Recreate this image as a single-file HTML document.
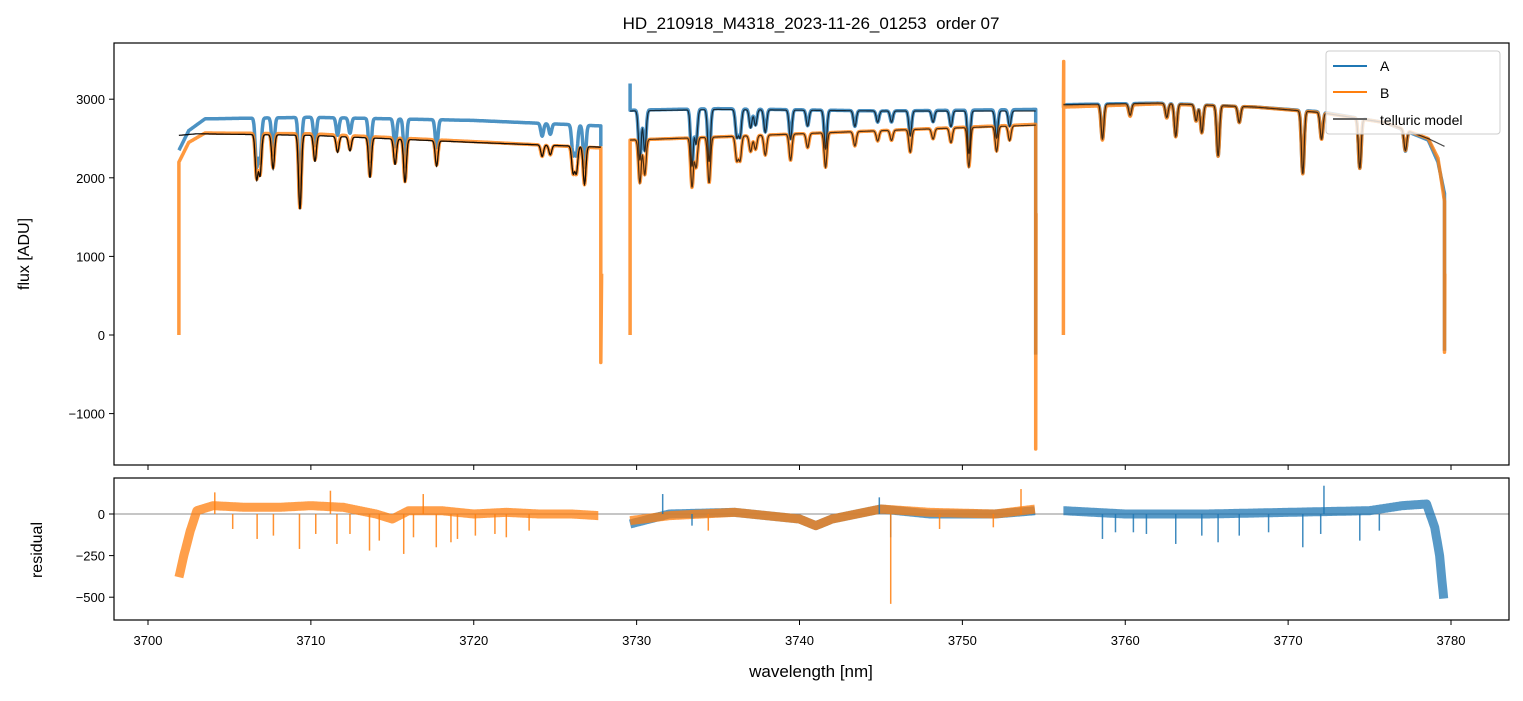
<!DOCTYPE html>
<html><head><meta charset="utf-8"><style>
body{margin:0;background:#fff;font-family:"Liberation Sans",sans-serif}
svg text{font-family:"Liberation Sans",sans-serif;fill:#000}
</style></head><body>
<svg id="chart" width="1523" height="696" xmlns="http://www.w3.org/2000/svg">
<rect width="1523" height="696" fill="#fff"/>
<text x="811" y="29" font-size="17" text-anchor="middle">HD_210918_M4318_2023-11-26_01253&#160; order 07</text>
<g id="topg"></g><g id="botg"></g>
<rect x="114" y="43" width="1395" height="422" fill="none" stroke="#000" stroke-width="1.2"/>
<rect x="114" y="478" width="1395" height="142" fill="none" stroke="#000" stroke-width="1.2"/>
<g id="ticks"></g>
<text transform="translate(29,254) rotate(-90)" font-size="16" text-anchor="middle">flux [ADU]</text>
<text transform="translate(42,550) rotate(-90)" font-size="16" text-anchor="middle">residual</text>
<text x="811" y="677" font-size="17" text-anchor="middle">wavelength [nm]</text>
<g>
<rect x="1326" y="51" width="174" height="83" rx="3" fill="#fff" fill-opacity="0.8" stroke="#ccc"/>
<line x1="1333" y1="66" x2="1367" y2="66" stroke="#1f77b4" stroke-width="2"/>
<text x="1380" y="71" font-size="14">A</text>
<line x1="1333" y1="92" x2="1367" y2="92" stroke="#ff7f0e" stroke-width="2"/>
<text x="1380" y="98" font-size="14">B</text>
<line x1="1333" y1="119" x2="1367" y2="119" stroke="#666" stroke-width="2"/>
<text x="1380" y="125" font-size="14">telluric model</text>
</g>
</svg>
<script>
// ---- data ----
const xTicks=[3700,3710,3720,3730,3740,3750,3760,3770,3780];
const yTicksTop=[3000,2000,1000,0,-1000];
const yTicksBot=[0,-250,-500];
const segRanges=[[3701.9,3727.8],[3729.6,3754.5],[3756.2,3779.6]];
const contA=[
 [[3701.9,2350],[3702.5,2600],[3703.5,2750],[3710,2770],[3720,2730],[3727.8,2660]],
 [[3729.6,2860],[3735,2880],[3745,2850],[3754.5,2870]],
 [[3756.2,2930],[3762,2950],[3768,2900],[3772,2840],[3776,2700],[3778.6,2480],[3779.2,2200],[3779.6,1800]]
];
const contB=[
 [[3701.9,2200],[3702.5,2450],[3703.5,2570],[3710,2560],[3720,2460],[3727.8,2380]],
 [[3729.6,2480],[3735,2520],[3745,2600],[3754.5,2680]],
 [[3756.2,2900],[3762,2940],[3768,2900],[3772,2830],[3776,2700],[3778.6,2500],[3779.2,2250],[3779.6,1700]]
];
const contM=[
 [[3701.9,2540],[3703,2560],[3710,2540],[3720,2450],[3727.8,2390]],
 [[3729.6,2850],[3735,2870],[3745,2850],[3754.5,2850]],
 [[3756.2,2930],[3762,2950],[3768,2900],[3772,2830],[3776,2700],[3778.6,2500],[3779.6,2400]]
];
const contMB=[
 [[3701.9,2540],[3703,2560],[3710,2540],[3720,2450],[3727.8,2390]],
 [[3729.6,2480],[3735,2520],[3745,2600],[3754.5,2670]],
 [[3756.2,2930],[3779.6,2400]]
];
const lineWl=[3706.67,3706.88,3707.68,3709.33,3710.25,3711.64,3712.40,3713.63,3715.17,3715.78,3717.72,3724.2,3724.7,3726.1,3726.3,3726.8,
 3730.2,3730.5,3733.4,3733.65,3734.45,3736.15,3736.35,3737.0,3737.3,3737.9,3739.45,3740.5,3741.6,3743.4,3744.8,3745.65,3746.8,3748.2,3749.3,3750.4,3752.1,3752.9,
 3758.6,3760.3,3762.55,3763.1,3764.35,3764.7,3765.7,3767.0,3770.9,3772.05,3774.4,3777.2];
const lineDepth=[0.22,0.2,0.17,0.37,0.13,0.08,0.07,0.2,0.13,0.22,0.13,0.06,0.05,0.14,0.14,0.2,
 0.22,0.18,0.25,0.15,0.23,0.12,0.12,0.08,0.07,0.1,0.13,0.07,0.17,0.07,0.05,0.05,0.11,0.05,0.07,0.19,0.12,0.07,
 0.15,0.05,0.06,0.14,0.07,0.12,0.22,0.07,0.28,0.12,0.23,0.1];
const resB=[[[3701.9,-380],[3702.2,-250],[3702.6,-100],[3703,20],[3704,50],[3706,40],[3708,40],[3710,50],[3712,40],[3714,0],[3715,-30],[3716,20],[3718,20],[3720,0],[3722,10],[3724,0],[3726,0],[3727.7,-10]],
 [[3729.6,-40],[3732,-10],[3736,10],[3740,-30],[3741,-70],[3742,-30],[3745,30],[3748,10],[3752,0],[3754.5,30]]];
const resA=[[[3729.6,-60],[3732,0],[3736,10],[3740,-30],[3741,-70],[3742,-30],[3745,30],[3748,0],[3752,0],[3754.5,20]],
 [[3756.2,20],[3760,0],[3765,0],[3770,10],[3775,20],[3777,50],[3778.5,60],[3779,-80],[3779.3,-250],[3779.6,-560]]];
const spikeBWl=[3705.2,3706.7,3707.7,3709.3,3710.3,3711.6,3712.4,3713.6,3714.2,3715.7,3716.3,3717.7,3718.6,3719,3720.1,3721.3,3722,3723.4,3745.6,3734.4,3748.6,3751.9,3753.6,3704.1,3711.2,3716.9];
const spikeBVal=[-90,-150,-130,-210,-120,-180,-120,-220,-160,-240,-140,-200,-170,-150,-130,-120,-140,-100,-540,-100,-90,-80,150,130,140,120];
const spikeAWl=[3758.6,3759.4,3761.3,3763.1,3764.7,3765.7,3767.0,3768.8,3770.9,3772,3772.2,3774.4,3775.6,3760.5,3745.6,3731.6,3733.4,3744.9];
const spikeAVal=[-150,-110,-120,-180,-130,-170,-130,-110,-200,-120,170,-160,-100,-110,-140,120,-70,100];

const X=v=>148+(v-3700)*16.2875;
const YT=v=>335-v*0.0786;
const YB=v=>514-v*0.1664;
function interp(arr,w){if(w<=arr[0][0])return arr[0][1];for(let i=1;i<arr.length;i++){if(w<=arr[i][0]){const a=arr[i-1],b=arr[i];return a[1]+(b[1]-a[1])*(w-a[0])/(b[0]-a[0]);}}return arr[arr.length-1][1];}
function absorb(w){let f=1;for(let i=0;i<lineWl.length;i++){const d=(w-lineWl[i])/0.12;if(Math.abs(d)<5)f*=1-lineDepth[i]*Math.exp(-d*d);}return f;}
const NS='http://www.w3.org/2000/svg';
function mk(tag,attrs,parent){const e=document.createElementNS(NS,tag);for(const k in attrs)e.setAttribute(k,attrs[k]);parent.appendChild(e);return e;}
const topG=document.getElementById('topg'),botG=document.getElementById('botg'),tk=document.getElementById('ticks');
function series(cont,seg,pre,post){let pts=[];const [a,b]=segRanges[seg];pre.forEach(p=>pts.push(X(p[0]).toFixed(1)+','+YT(p[1]).toFixed(1)));for(let w=a;w<=b;w+=0.02){pts.push(X(w).toFixed(1)+','+YT(interp(cont[seg],w)*absorb(w)).toFixed(1));}post.forEach(p=>pts.push(X(p[0]).toFixed(1)+','+YT(p[1]).toFixed(1)));return pts.join(' ');}
const edgesA=[[[],[[3727.8,2400]]],[[[3729.6,3200]],[[3754.5,-250]]],[[],[[3779.6,-200]]]];
const edgesB=[[[[3701.9,0]],[[3727.8,-350],[3727.85,780]]],[[[3729.6,0]],[[3754.5,-1450],[3754.52,1550]]],[[[3756.2,0],[3756.22,3480]],[[3779.6,-220],[3779.62,780]]]];
for(let s=0;s<3;s++){
 const pA=mk('polyline',{points:series(contA,s,edgesA[s][0],edgesA[s][1]),fill:'none',stroke:'#1f77b4','stroke-width':3.5,'stroke-opacity':0.8,'stroke-linejoin':'round'},topG);
 
 
}
for(let s=0;s<3;s++){
 const pB=mk('polyline',{points:series(contB,s,edgesB[s][0],edgesB[s][1]),fill:'none',stroke:'#ff7f0e','stroke-width':3.5,'stroke-opacity':0.8,'stroke-linejoin':'round'},topG);
 
 
}
for(let s=0;s<3;s++){
 const m=mk('polyline',{points:series(contM,s,[],[]),fill:'none',stroke:'#000','stroke-width':1.2,'stroke-opacity':0.7},topG);
 
 
 if(s<2){const m2=mk('polyline',{points:series(contMB,s,[],[]),fill:'none',stroke:'#000','stroke-width':1.2,'stroke-opacity':0.7},topG);
 
 }
}
const zl=mk('line',{x1:114,x2:1509,y1:YB(0),y2:YB(0),stroke:'#666','stroke-width':0.8},botG);


function resLine(arr,color,name){const pts=[];for(let w=arr[0][0];w<=arr[arr.length-1][0];w+=0.05)pts.push(X(w).toFixed(1)+','+YB(interp(arr,w)).toFixed(1));
 const p=mk('polyline',{points:pts.join(' '),fill:'none',stroke:color,'stroke-width':9,'stroke-opacity':0.75,'stroke-linejoin':'round'},botG);
 
 }
resA.forEach(r=>resLine(r,'#1f77b4','residual-a'));
resB.forEach(r=>resLine(r,'#ff7f0e','residual-b'));
spikeAWl.forEach((w,i)=>{const l=mk('line',{x1:X(w),x2:X(w),y1:YB(0),y2:YB(spikeAVal[i]),stroke:'#1f77b4','stroke-width':1.5,'stroke-opacity':0.85},botG);
 
 });
spikeBWl.forEach((w,i)=>{const l=mk('line',{x1:X(w),x2:X(w),y1:YB(0),y2:YB(spikeBVal[i]),stroke:'#ff7f0e','stroke-width':1.5,'stroke-opacity':0.85},botG);
 
 });
xTicks.forEach(v=>{const x=X(v);
 mk('line',{x1:x,x2:x,y1:465,y2:470,stroke:'#000'},tk);
 mk('line',{x1:x,x2:x,y1:620,y2:625,stroke:'#000'},tk);
 const t=mk('text',{x:x,y:645,'font-size':13,'text-anchor':'middle'},tk);t.textContent=v;
 
 });
yTicksTop.forEach(v=>{const y=YT(v);
 mk('line',{x1:109,x2:114,y1:y,y2:y,stroke:'#000'},tk);
 const t=mk('text',{x:105,y:y+5,'font-size':13,'text-anchor':'end'},tk);t.textContent=v<0?'\u2212'+(-v):v;
 
 });
yTicksBot.forEach(v=>{const y=YB(v);
 mk('line',{x1:109,x2:114,y1:y,y2:y,stroke:'#000'},tk);
 const t=mk('text',{x:105,y:y+5,'font-size':13,'text-anchor':'end'},tk);t.textContent=v<0?'\u2212'+(-v):v;
 
 });
</script>
</body></html>
